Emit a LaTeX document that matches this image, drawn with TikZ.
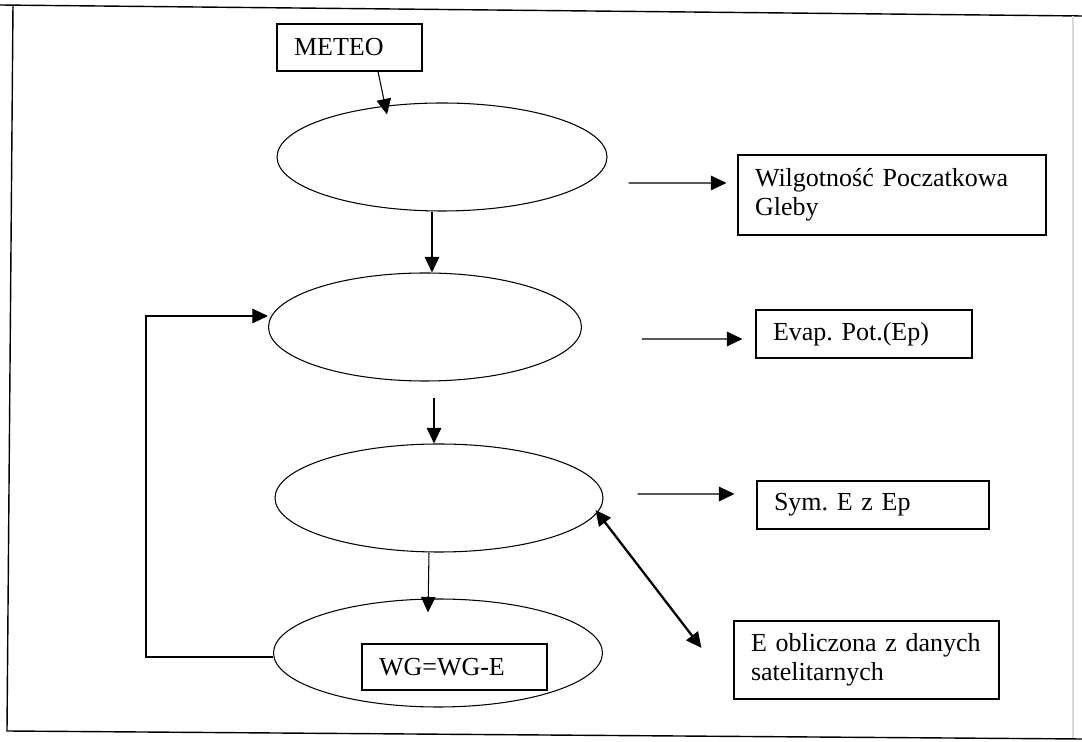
\documentclass[tikz,border=0pt]{standalone}
\usepackage{fontspec}
\setmainfont{Liberation Serif}
\usetikzlibrary{arrows.meta}
\usetikzlibrary{shapes.geometric}

\tikzset{
  blok/.style={draw, rectangle, align=left, inner xsep=3.4mm, inner ysep=0pt, font=\fontsize{14.8}{16.5}\selectfont\frenchspacing},
  owal/.style={draw, ellipse, inner sep=0pt, minimum height=21.6mm},
}

\begin{document}
\begin{tikzpicture}[x=0.2mm,y=-0.2mm,line width=0.6pt,>={Triangle[length=3.1mm,width=2.9mm]}]
        \useasboundingbox (0,0) rectangle (1082,742);
        % ramka
        \draw[line width=0.8pt] (0,5) -- (1082,16);
        \draw[line width=0.8pt] (13,5) -- (7,731) -- (1082,739);
        \draw[gray!30] (1073,16) -- (1073,738);
        % elipsy
        \node[owal, minimum width=66mm] (e1) at (442,157) {};
        \node[owal, minimum width=62.6mm] (e2) at (425,327) {};
        \node[owal, minimum width=65.6mm] (e3) at (439,498) {};
        \node[owal, minimum width=65.8mm] (e4) at (438,653) {};
        % prostokaty
        \node[blok, text width=22.2mm, minimum height=9.4mm] (meteo) at (349.5,47.5) {METEO};
        \node[blok, text width=54.8mm, minimum height=16mm] (wilg) at (892,195) {Wilgotność Poczatkowa\\Gleby};
        \node[blok, text width=36.4mm, minimum height=9.6mm] (evap) at (864,334) {Evap. Pot.(Ep)};
        \node[blok, text width=39.6mm, minimum height=9.6mm] (sym) at (873,505) {Sym. E z Ep};
        \node[blok, text width=46.2mm, minimum height=15.6mm] (sat) at (866.5,660) {E~obliczona~z~danych\\satelitarnych};
        \node[blok, text width=30.2mm, minimum height=9.2mm] (wg) at (454.5,667) {WG=WG-E};
        % strzalki w dol
        \draw[->] ([xshift=5.7mm]meteo.south) -- ([shift={(-11mm,-2.4mm)}]e1.north);
        \draw[->] ([xshift=-2mm]e1.south) -- ([xshift=-2mm]e1.south |- e2.north);
        \draw[->] ([shift={(1.8mm,-3.2mm)}]e2.south) -- ([xshift=1.8mm]e2.south |- e3.north);
        \draw[->] ([xshift=-2mm]e3.south) -- ([shift={(-2mm,-2.8mm)}]e4.north);
        % petla
        \coordinate (petla) at (146,500);
        \draw[->] ([yshift=-0.8mm]e4.west) -| (petla) |- ([yshift=2.2mm]e2.west);
        % strzalki w prawo
        \draw[->] ([shift={(4.2mm,-5.2mm)}]e1.east) -- ([shift={(-2.2mm,2.4mm)}]wilg.west);
        \draw[->] ([shift={(12mm,-2.4mm)}]e2.east) -- ([shift={(-2.6mm,-1mm)}]evap.west);
        \draw[->] ([shift={(6.8mm,0.8mm)}]e3.east) -- ([shift={(-4.4mm,2.2mm)}]sym.west);
        \draw[<->, line width=1.3pt] ([shift={(-1.6mm,-2.4mm)}]e3.east) -- ([shift={(-6.4mm,2.4mm)}]sat.west);
    \end{tikzpicture}
\end{document}
